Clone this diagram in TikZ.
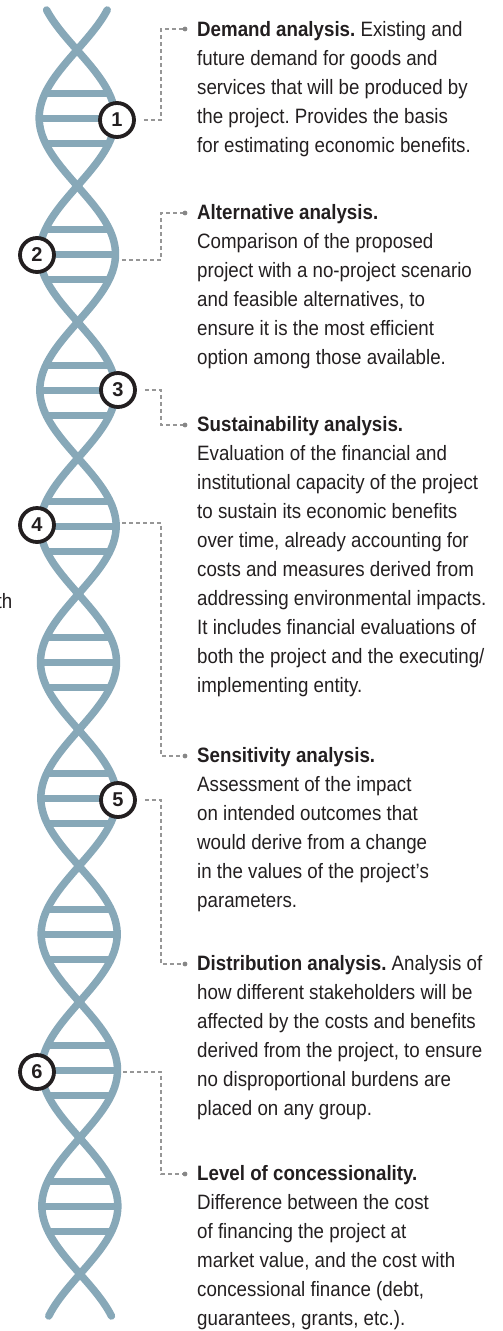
\documentclass[tikz,border=0pt]{standalone}
\usepackage{fontspec}
\setmainfont{Liberation Sans}[FakeStretch=0.9]
\newfontfamily\digitfont{Liberation Sans}
\frenchspacing

\definecolor{dna}{RGB}{135,168,184}
\definecolor{ink}{RGB}{35,31,32}
\definecolor{leadgray}{RGB}{150,150,150}

\tikzset{
	strand/.style={dna, line width=7.5pt, line cap=round},
	rung/.style={dna, line width=7pt},
	numcirc/.style={draw=ink, fill=white, circle, line width=3.8pt, minimum size=34pt,
		inner sep=0pt, font=\digitfont\fontsize{20}{20}\selectfont\bfseries, text=ink},
	leader/.style={leadgray, line width=1.1pt, dash pattern=on 4pt off 3pt},
	desc/.style={inner sep=0pt, align=left, text=ink, anchor=north west,
		font=\fontsize{20.8}{29}\selectfont}
}

\begin{document}
\begin{tikzpicture}[x=1pt, y=-1pt]

		\useasboundingbox (0,0) rectangle (503,1331);

		% the two strands (half turn = 136)
		\draw[strand] plot[domain=10:1316, samples=260, smooth, variable=\t]
			({77+(\t-50)*0.00245-38*sin((\t-50)*1.32353)}, \t);
		\draw[strand] plot[domain=10:1316, samples=260, smooth, variable=\t]
			({77+(\t-50)*0.00245+38*sin((\t-50)*1.32353)}, \t);

		% three rungs in every loop
		\foreach \k in {0,...,8}{
			\foreach \o in {-25,0,25}{
				\pgfmathsetmacro\ry{118+136*\k+\o}
				\pgfmathsetmacro\rc{77+(\ry-50)*0.00245}
				\pgfmathsetmacro\rw{38*cos(\o*1.32353)}
				\draw[rung] (\rc-\rw,\ry) -- (\rc+\rw,\ry);
			}
		}

		% numbered markers
		\node[numcirc] (c1) at (117,120) {1};
		\node[numcirc] (c2) at (37,255) {2};
		\node[numcirc] (c3) at (118,390) {3};
		\node[numcirc] (c4) at (37,525) {4};
		\node[numcirc] (c5) at (118,800) {5};
		\node[numcirc] (c6) at (37,1072) {6};

		% strand points for the markers on the left
		\coordinate (s2) at (122,260);
		\coordinate (s4) at (122,523);
		\coordinate (s6) at (123,1072);

		% end dots
		\coordinate (d1) at (185,29);
		\coordinate (d2) at (185,213);
		\coordinate (d3) at (185,425);
		\coordinate (d4) at (185,756);
		\coordinate (d5) at (185,964);
		\coordinate (d6) at (185,1174);

		\draw[leader, shorten <=8pt] (c1.east) -| ([xshift=-24pt]d1) -- (d1);
		\draw[leader] (s2) -| ([xshift=-24pt]d2) -- (d2);
		\draw[leader, shorten <=8pt] (c3.east) -| ([xshift=-24pt]d3) -- (d3);
		\draw[leader] (s4) -| ([xshift=-24pt]d4) -- (d4);
		\draw[leader, shorten <=8pt] (c5.east) -| ([xshift=-24pt]d5) -- (d5);
		\draw[leader] (s6) -| ([xshift=-24pt]d6) -- (d6);

		\foreach \d in {d1,d2,d3,d4,d5,d6}
			\fill[leadgray!90!black] (\d) circle (2.4pt);

		% descriptions
		\node[desc] (t1) at (197,20.8) {\textbf{Demand analysis.} Existing and\\
			future demand for goods and\\
			services that will be produced by\\
			the project. Provides the basis\\
			for estimating economic benefits.};
		\node[desc] (t2) at (197,204.6) {\textbf{Alternative analysis.}\\
			Comparison of the proposed\\
			project with a no-project scenario\\
			and feasible alternatives, to\\
			ensure it is the most efficient\\
			option among those available.};
		\node[desc] (t3) at (197,416.6) {\textbf{Sustainability analysis.}\\
			Evaluation of the financial and\\
			institutional capacity of the project\\
			to sustain its economic benefits\\
			over time, already accounting for\\
			costs and measures derived from\\
			addressing environmental impacts.\\
			It includes financial evaluations of\\
			both the project and the executing/\\
			implementing entity.};
		\node[desc] (t4) at (197,747.6) {\textbf{Sensitivity analysis.}\\
			Assessment of the impact\\
			on intended outcomes that\\
			would derive from a change\\
			in the values of the project’s\\
			parameters.};
		\node[desc] (t5) at (197,955.6) {\textbf{Distribution analysis.} Analysis of\\
			how different stakeholders will be\\
			affected by the costs and benefits\\
			derived from the project, to ensure\\
			no disproportional burdens are\\
			placed on any group.};
		\node[desc] (t6) at (197,1165.6) {\textbf{Level of concessionality.}\\
			Difference between the cost\\
			of financing the project at\\
			market value, and the cost with\\
			concessional finance (debt,\\
			guarantees, grants, etc.).};

		% cut-off word at the left edge
		\node[desc, anchor=base east] (frag) at (12.5,608) {th};

	\end{tikzpicture}
\end{document}
